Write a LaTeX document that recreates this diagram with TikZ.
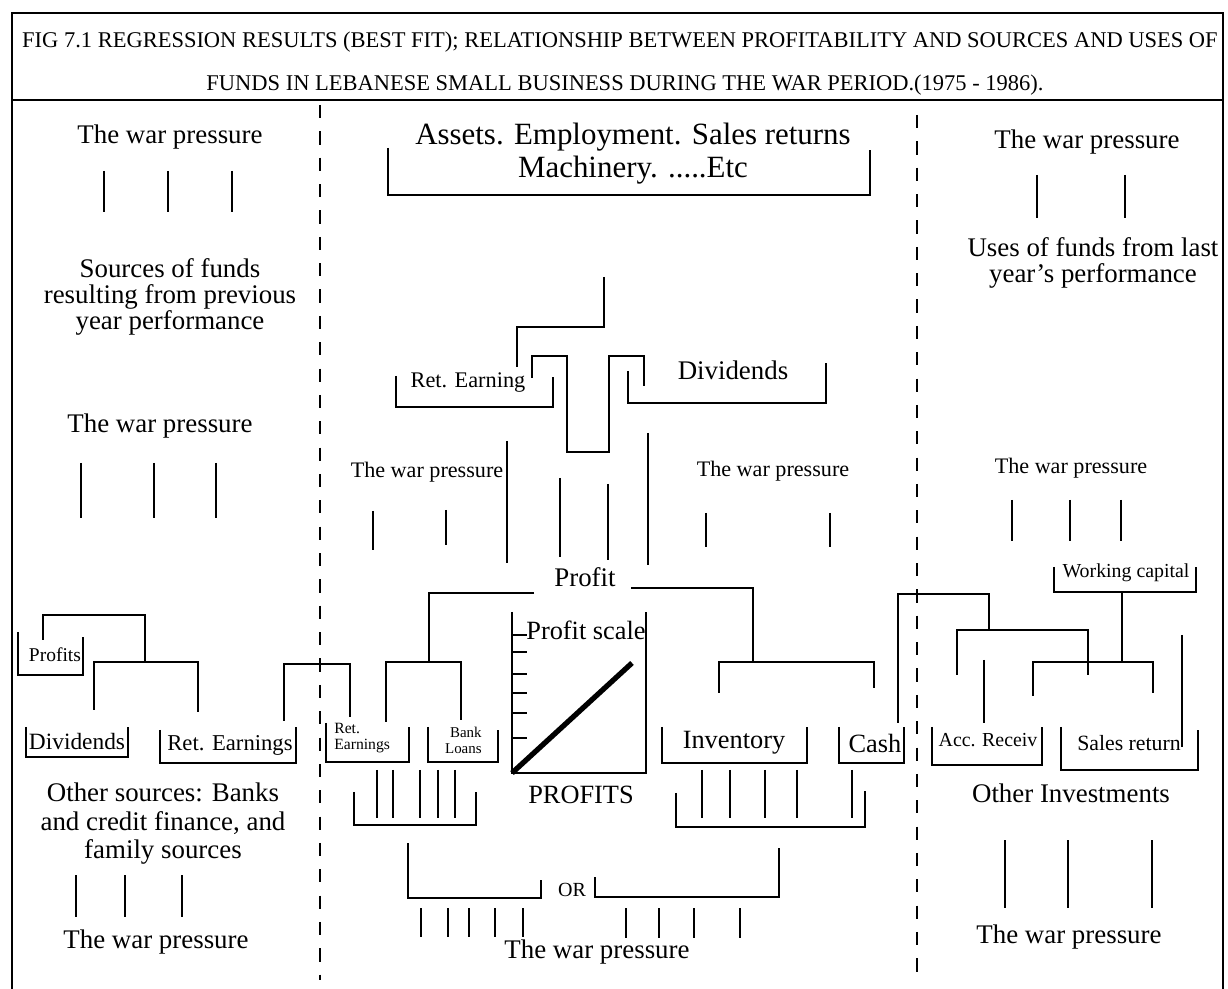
\documentclass[tikz,border=0pt]{standalone}
\usepackage{fontspec}
\setmainfont{Liberation Serif}
\tikzset{
  ln/.style={line width=1.3pt},
  tx/.style={inner sep=0pt, font=\fontsize{#1}{#1}\selectfont},
  tx/.default=15.3,
  ml/.style 2 args={inner sep=0pt, align=center, font=\fontsize{#1}{#2}\selectfont},
  dsh/.style={line width=1.2pt, dash pattern=on 7.5pt off 7.5pt},
}
\begin{document}
\begin{tikzpicture}[x=0.02cm,y=-0.02cm]
\useasboundingbox (0,0) rectangle (1228,989);
% frame
\draw[ln] (12,989) -- (12,13) -- (1223,13) -- (1223,989);
\draw[ln] (12,100) -- (1223,100);
\node[tx=12.8] (title1) at (620,42) {FIG 7.1 REGRESSION RESULTS (BEST FIT); RELATIONSHIP BETWEEN PROFITABILITY AND SOURCES AND USES OF};
\node[tx=12.8] (title2) at (625,85) {FUNDS IN LEBANESE SMALL BUSINESS DURING THE WAR PERIOD.(1975 - 1986).};
% dashed separators
\draw[dsh] (320,105) -- (320,980);
\draw[dsh] (917,115) -- (917,972);

% ---------- left column
\node[tx] (lw1) at (170,137) {The war pressure};
\draw[ln] (104,171)--(104,212) (168,171)--(168,212) (232,171)--(232,212);
\node[ml={15.3}{14.8}] (src) at (170,297) {Sources of funds\\resulting from previous\\year performance};
\node[tx] (lw2) at (160,426) {The war pressure};
\draw[ln] (81,463)--(81,518) (154,463)--(154,518) (216,463)--(216,518);
\node[tx=11.1] (lprof) at (55,655) {Profits};
\draw[ln] (18,632)--(18,675)--(83,675)--(83,637);
\draw[ln] (43,640)--(43,615)--(145,615)--(145,662);
\draw[ln] (94,710)--(94,662)--(198,662)--(198,712);
\node[tx=13.3] (ldiv) at (77,742) {Dividends};
\draw[ln] (26,727)--(26,757)--(128,757)--(128,727);
\node[tx=12.9] (lret) at (230,745) {Ret. Earnings};
\draw[ln] (160,730)--(160,763)--(296,763)--(296,727);
\draw[ln] (284,721)--(284,664)--(350,664)--(350,717);
\node[ml={15.3}{16.2}] (oth) at (163,824) {Other sources: Banks\\and credit finance, and\\family sources};
\draw[ln] (76,875)--(76,917) (125,875)--(125,917) (182,875)--(182,917);
\node[tx] (lw3) at (156,942) {The war pressure};

% ---------- middle column
\node[ml={17.6}{18.7}] (assets) at (633,154) {Assets. Employment. Sales returns\\Machinery. .....Etc};
\draw[ln] (388,148)--(388,195)--(870,195)--(870,150);
\draw[ln] (604,277)--(604,327)--(517,327)--(517,367);
\node[tx=12.7] (mret) at (468,383) {Ret. Earning};
\draw[ln] (396,376)--(396,407)--(553,407)--(553,377);
\draw[ln] (532,378)--(532,356)--(567,356)--(567,452)--(609,452)--(609,356)--(644,356)--(644,386);
\node[tx] (mdiv) at (733,370) {Dividends};
\draw[ln] (628,371)--(628,403)--(826,403)--(826,363);
\node[tx=12.6] (mw1) at (427,472) {The war pressure};
\node[tx=12.6] (mw2) at (773,471) {The war pressure};
\draw[ln] (507,441)--(507,563) (560,478)--(560,557) (608,484)--(608,560) (648,433)--(648,565);
\draw[ln] (373,511)--(373,550) (446,510)--(446,545) (706,513)--(706,547) (830,513)--(830,547);
\node[tx] (prof) at (585,577) {Profit};
\draw[ln] (534,593)--(429,593)--(429,662);
\draw[ln] (386,722)--(386,662)--(461,662)--(461,720);
\draw[ln] (631,588)--(753,588)--(753,662);
\draw[ln] (719,693)--(719,662)--(874,662)--(874,688);
% profit scale chart
\draw[ln] (512,612)--(512,773)--(646,773)--(646,612);
\foreach \yy in {635,652,674,693,713,738} \draw[ln] (512,\yy)--(527,\yy);
\draw[line width=3pt] (512,773)--(632,663);
\node[tx=15] (pscale) at (586,630) {Profit scale};
\node[tx=15] (profits) at (581,795) {PROFITS};
% small brackets
\node[inner sep=0pt, align=left, font=\fontsize{8.9}{9.3}\selectfont, anchor=west] (sret) at (334,738) {Ret.\\Earnings};
\draw[ln] (326,723)--(326,762)--(409,762)--(409,727);
\node[inner sep=0pt, align=right, font=\fontsize{8.5}{9}\selectfont, anchor=east] (bank) at (482,740) {Bank\\Loans};
\draw[ln] (428,727)--(428,762)--(498,762)--(498,730);
\draw[ln] (377,770)--(377,818) (393,770)--(393,818) (420,770)--(420,818) (438,770)--(438,818) (455,770)--(455,818);
\draw[ln] (354,792)--(354,825)--(476,825)--(476,792);
\node[tx=15] (inv) at (734,743) {Inventory};
\draw[ln] (662,727)--(662,763)--(807,763)--(807,727);
\node[tx=15] (cash) at (875,743) {Cash};
\draw[ln] (839,727)--(839,763)--(904,763)--(904,727);
\draw[ln] (702,770)--(702,818) (730,770)--(730,818) (765,770)--(765,818) (797,770)--(797,818) (852,770)--(852,818);
\draw[ln] (676,793)--(676,827)--(865,827)--(865,791);
\draw[ln] (408,843)--(408,898)--(541,898)--(541,880);
\node[tx=11.4] (or) at (572,890) {OR};
\draw[ln] (595,877)--(595,897)--(779,897)--(779,848);
\draw[ln] (421,908)--(421,937) (448,908)--(448,937) (469,908)--(469,937) (495,908)--(495,937) (523,908)--(523,937);
\draw[ln] (626,908)--(626,938) (659,908)--(659,938) (694,908)--(694,938) (740,908)--(740,938);
\node[tx] (mw3) at (597,952) {The war pressure};

% ---------- right column
\node[tx] (rw1) at (1087,142) {The war pressure};
\draw[ln] (1037,175)--(1037,218) (1125,175)--(1125,218);
\node[ml={15.3}{15.3}] (uses) at (1093,263) {Uses of funds from last\\year's performance};
\node[tx=12.6] (rw2) at (1071,468) {The war pressure};
\draw[ln] (1012,500)--(1012,541) (1070,500)--(1070,541) (1121,500)--(1121,541);
\node[tx=11.3] (wc) at (1126,573) {Working capital};
\draw[ln] (1054,567)--(1054,592)--(1196,592)--(1196,567);
\draw[ln] (1122,592)--(1122,662);
\draw[ln] (1033,696)--(1033,662)--(1153,662)--(1153,693);
\draw[ln] (898,723)--(898,594)--(989,594)--(989,630);
\draw[ln] (957,675)--(957,630)--(1088,630)--(1088,675);
\draw[ln] (984,660)--(984,723);
\draw[ln] (1182,635)--(1182,747);
\node[tx=11.3] (acc) at (988,740) {Acc. Receiv};
\draw[ln] (932,727)--(932,765)--(1042,765)--(1042,727);
\node[tx=12.4] (sales) at (1129,743) {Sales return};
\draw[ln] (1061,727)--(1061,770)--(1198,770)--(1198,730);
\node[tx] (oinv) at (1071,793) {Other Investments};
\draw[ln] (1005,840)--(1005,908) (1068,840)--(1068,908) (1152,840)--(1152,908);
\node[tx] (rw3) at (1069,937) {The war pressure};
\end{tikzpicture}
\end{document}
